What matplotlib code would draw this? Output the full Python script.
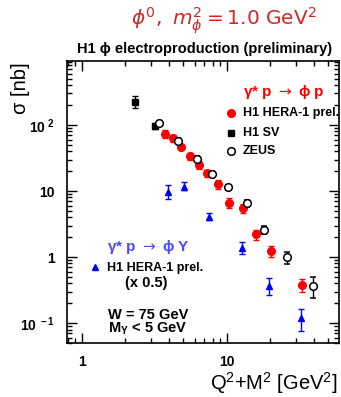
import numpy as np
import matplotlib
matplotlib.use("Agg")
import matplotlib.pyplot as plt
from matplotlib.ticker import LogLocator, FixedLocator, FixedFormatter, NullFormatter

plt.rcParams['font.family'] = ['Liberation Sans', 'DejaVu Sans']
plt.rcParams['mathtext.fontset'] = 'custom'
plt.rcParams['mathtext.rm'] = 'Liberation Sans:bold'
plt.rcParams['mathtext.bf'] = 'Liberation Sans:bold'
plt.rcParams['mathtext.it'] = 'Liberation Sans:italic:bold'

# H1 HERA-1 prel. (gamma* p -> phi p)
h1_q2 = [3.75, 4.24, 4.84, 5.55, 6.41, 7.35, 8.67, 10.3, 13.0, 15.8, 20.1, 33.1]
h1_sig = [73, 63, 47, 34, 25, 18.5, 12.6, 6.7, 5.5, 2.2, 1.23, 0.38]
h1_err = [10, 8, 5, 4, 3.5, 2.0, 2.0, 1.1, 0.9, 0.38, 0.22, 0.08]

# H1 SV
sv_q2 = [2.33, 3.22]
sv_sig = [225, 98]
sv_lo = [45, 10]
sv_hi = [50, 10]

# ZEUS
zeus_q2 = [3.41, 4.62, 6.21, 7.88, 10.2, 13.7, 18.1, 25.9, 39.6]
zeus_sig = [108, 58, 31, 18.1, 11.4, 6.5, 2.57, 0.99, 0.37]
zeus_err = [8, 5, 3, 2, 1, 0.7, 0.35, 0.2, 0.13]

# H1 HERA-1 prel. proton dissociation (x 0.5)
pd_q2 = [3.92, 5.08, 7.59, 12.8, 19.5, 32.4]
pd_sig = [9.55, 11.6, 4.08, 1.36, 0.36, 0.12]
pd_lo = [2.0, 1.3, 0.4, 0.25, 0.09, 0.043]
pd_hi = [2.8, 2.2, 0.5, 0.31, 0.12, 0.043]

ytick_vals = [0.1, 1, 10, 100]
ytick_labels = [r'$\mathbf{10^{\ -1}}$', '1', '10', r'$\mathbf{10^{\ 2}}$']
xtick_vals = [1, 10]
xtick_labels = ['1', '10']

W, H = 341, 397
fig = plt.figure(figsize=(W / 100, H / 100), dpi=100)
ax = fig.add_axes([67 / W, 1 - 343 / H, (339 - 67) / W, (343 - 61) / H])

ax.errorbar(pd_q2, pd_sig, yerr=[pd_lo, pd_hi], fmt='^', color='#0000ff',
            ms=5, capsize=2.5, elinewidth=1, capthick=1)
ax.errorbar(h1_q2, h1_sig, yerr=h1_err, fmt='o', color='#ff0000',
            ms=5.5, capsize=2.5, elinewidth=1, capthick=1)
ax.errorbar(sv_q2, sv_sig, yerr=[sv_lo, sv_hi], fmt='s', color='black',
            ms=4.5, capsize=2.5, elinewidth=1, capthick=1)
ax.errorbar(zeus_q2, zeus_sig, yerr=zeus_err, fmt='o', color='black', mfc='white',
            mec='black', mew=1.1, ms=5.5, capsize=2.5, elinewidth=1, capthick=1)

ax.set_xscale('log')
ax.set_yscale('log')
ax.set_xlim(0.79, 59.5)
ax.set_ylim(0.05, 930)

ax.xaxis.set_major_locator(FixedLocator(xtick_vals))
ax.xaxis.set_major_formatter(FixedFormatter(xtick_labels))
ax.yaxis.set_major_locator(FixedLocator(ytick_vals))
ax.yaxis.set_major_formatter(FixedFormatter(ytick_labels))
for a in (ax.xaxis, ax.yaxis):
    a.set_minor_locator(LogLocator(base=10, subs=np.arange(2, 10), numticks=20))
    a.set_minor_formatter(NullFormatter())

ax.tick_params(which='both', direction='in', top=True, right=True, width=1)
ax.tick_params(which='major', length=7, labelsize=10, pad=9)
ax.tick_params(which='minor', length=3.5)
for lab in ax.get_xticklabels() + ax.get_yticklabels():
    lab.set_fontweight('bold')
for s in ax.spines.values():
    s.set_linewidth(1.2)


def fx(px):
    return px / W


def fy(py):
    return 1 - py / H


fig.text(fx(224), fy(21), r'$\phi^0,\ m_\phi^2 = 1.0\ \mathrm{GeV}^2$', color='#cc2a2a',
         fontsize=14.5, ha='center', va='center', math_fontfamily='dejavusans')
fig.text(fx(205), fy(49), 'H1 ϕ electroproduction (preliminary)', fontsize=10.5,
         fontweight='bold', ha='center', va='center')

fig.text(fx(20), fy(62), 'σ [nb]', rotation=90, fontsize=14.5, ha='center', va='top')
fig.text(fx(338), fy(383), r'Q$^{\mathregular{2}}$+M$^{\mathregular{2}}$ [GeV$^{\mathregular{2}}$]',
         fontsize=14.5, ha='right', va='center')

# legend block, gamma* p -> phi p
fig.text(fx(243), fy(92), r'γ* p $\rightarrow$ ϕ p', color='#ff0000', fontsize=11,
         fontweight='bold', ha='left', va='center', math_fontfamily='dejavusans')
leg_rows = [('H1 HERA-1 prel.', dict(marker='o', color='#ff0000', ms=5.5), 113),
            ('H1 SV', dict(marker='s', color='black', ms=4.5), 133),
            ('ZEUS', dict(marker='o', color='black', mfc='white', mew=1.1, ms=5.5), 151)]
for text, style, py in leg_rows:
    ax.plot([fx(231)], [fy(py)], transform=fig.transFigure, clip_on=False, ls='none', **style)
    fig.text(fx(243), fy(py), text, fontsize=9, fontweight='bold', ha='left', va='center')

# legend block, gamma* p -> phi Y
fig.text(fx(107), fy(247), r'γ* p $\rightarrow$ ϕ Y', color='#4a4aff', fontsize=11,
         fontweight='bold', ha='left', va='center', math_fontfamily='dejavusans')
ax.plot([fx(95)], [fy(267)], transform=fig.transFigure, clip_on=False, ls='none',
        marker='^', color='#0000ff', ms=5)
fig.text(fx(107), fy(268), 'H1 HERA-1 prel.', fontsize=9, fontweight='bold',
         ha='left', va='center')
fig.text(fx(125), fy(283), '(x 0.5)', fontsize=10.5, fontweight='bold', ha='left', va='center')

fig.text(fx(108), fy(315), 'W = 75 GeV', fontsize=10.5, fontweight='bold', ha='left', va='center')
fig.text(fx(108), fy(329), r'M$_{\mathregular{Y}}$ < 5 GeV', fontsize=10.5, fontweight='bold',
         ha='left', va='center')

fig.savefig('out.png', dpi=100)
